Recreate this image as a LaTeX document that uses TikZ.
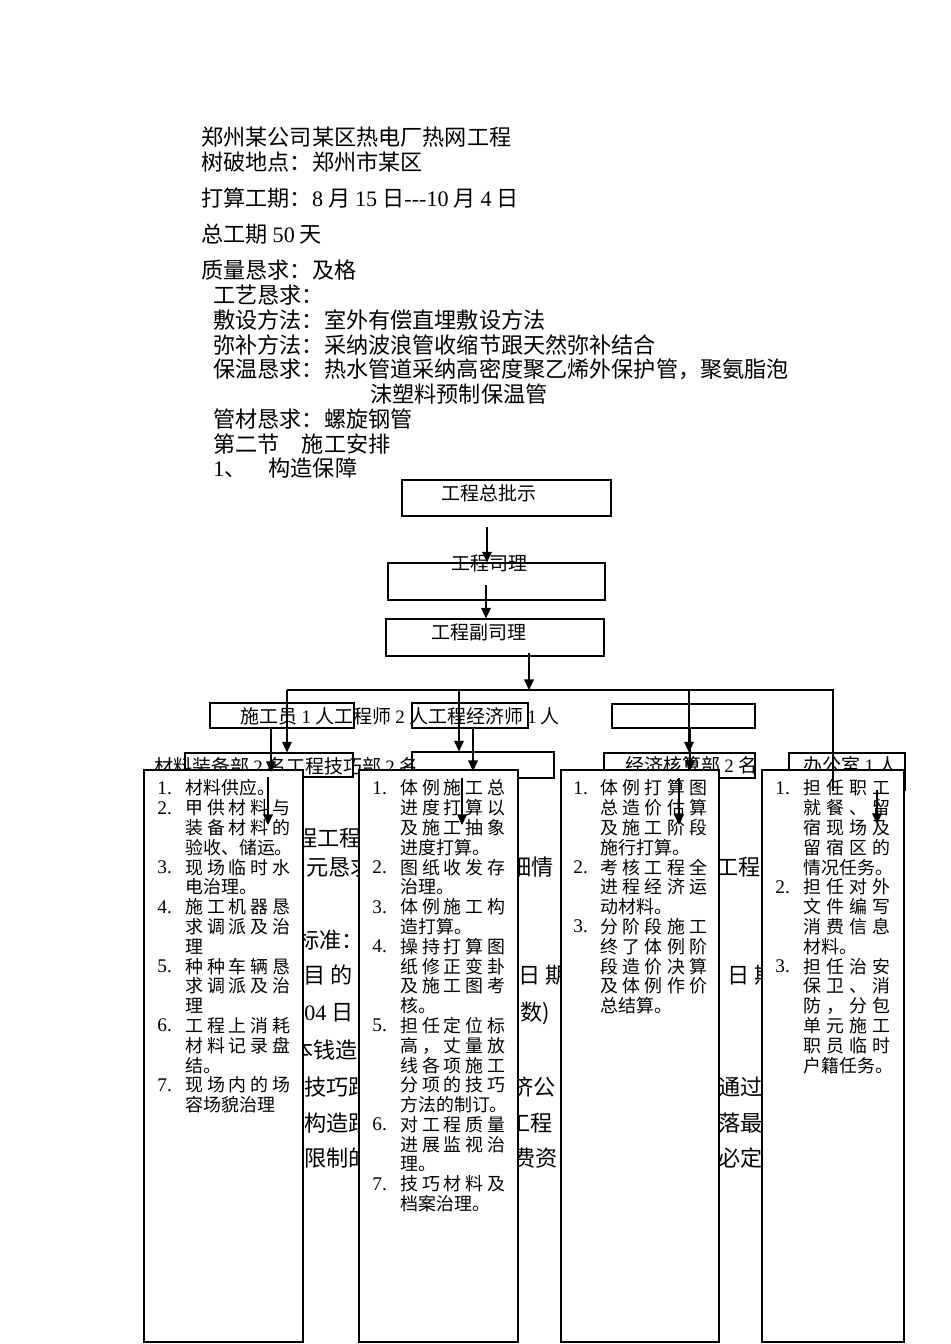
\documentclass[tikz,border=0pt]{standalone}
\usepackage{fontspec}
\setmainfont{Noto Sans CJK SC}
\newfontfamily\lat{Liberation Serif}
\usetikzlibrary{arrows.meta}
\newcommand\px{0.02cm}
% spread the characters of one line over a given width
\def\spreadchars#1#2{#1\ifx\relax#2\else\hfil\expandafter\spreadchars\expandafter#2\fi}
\tikzset{
  box/.style={draw, fill=white, line width=0.7pt, inner sep=0pt},
  hd/.style={anchor=west, inner sep=0pt, font=\fontsize{12.6pt}{15pt}\selectfont},
  lbl/.style={anchor=west, inner sep=0pt, font=\fontsize{10.8pt}{13pt}\selectfont},
  item/.style={anchor=west, inner sep=0pt, font=\fontsize{10.2pt}{12pt}\selectfont},
  num/.style={anchor=west, inner sep=0pt, font=\fontsize{11pt}{13pt}\lat},
  frag/.style={anchor=west, inner sep=0pt, font=\fontsize{12.6pt}{15pt}\selectfont},
  ln/.style={line width=0.7pt},
  arr/.style={line width=0.7pt, -{Triangle[length=6pt, width=5.5pt]}},
}
\begin{document}
\begin{tikzpicture}[x=\px, y=-\px]
  \useasboundingbox (0,0) rectangle (950,1344);
  % heading lines
  \node[hd] (t1) at (201,137) {郑州某公司某区热电厂热网工程};
  \node[hd] (t2) at (201,162) {树破地点：郑州市某区};
  \node[hd] (t3) at (201,198) {打算工期：{\lat 8} 月 {\lat 15} 日{\lat -{}-{}-10} 月 {\lat 4} 日};
  \node[hd] (t4) at (201,234) {总工期 {\lat 50} 天};
  \node[hd] (t5) at (201,270) {质量恳求：及格};
  \node[hd] (t6) at (213,295) {工艺恳求：};
  \node[hd] (t7) at (213,320) {敷设方法：室外有偿直埋敷设方法};
  \node[hd] (t8) at (213,345) {弥补方法：采纳波浪管收缩节跟天然弥补结合};
  \node[hd] (t9) at (213,369) {保温恳求：热水管道采纳高密度聚乙烯外保护管，聚氨脂泡};
  \node[hd] (t10) at (370,394) {沫塑料预制保温管};
  \node[hd] (t11) at (213,419) {管材恳求：螺旋钢管};
  \node[hd] (t12) at (213,444) {第二节\quad 施工安排};
  \node[hd] (t13) at (213,468) {{\lat 1}、\quad 构造保障};

  % text of the page behind the columns
  \foreach \x/\y/\s [count=\i] in {295/838/程工程, 306/867/元恳求, 297/940/标准：,
      303/975/目 的 ，, 304/1013/{\lat 04} 日, 291/1050/本钱造, 304/1087/技巧跟,
      304/1123/构造跟, 304/1158/限制的, 509/867/细情, 518/975/日 期, 520/1013/数),
      511/1087/济公, 508/1123/工程, 513/1158/费资, 716/867/工程, 727/975/日 期,
      718/1087/通过, 718/1123/落最, 718/1158/必定}
    \node[frag] (frag\i) at (\x,\y) {\s};

  % chart boxes
  \node[box, minimum width=209*\px, minimum height=36*\px] (pishi) at (506.5,498) {};
  \node[box, minimum width=217*\px, minimum height=37*\px] (sili) at (496.5,581.5) {};
  \node[box, minimum width=218*\px, minimum height=37*\px] (fusili) at (495,637.5) {};
  \node[box, minimum width=144*\px, minimum height=25*\px] (shigong) at (282,715.5) {};
  \node[box, minimum width=116*\px, minimum height=25*\px] (jingji) at (470,715.5) {};
  \node[box, minimum width=143*\px, minimum height=24*\px] (kong) at (683.5,716) {};
  \node[box, minimum width=168*\px, minimum height=24*\px] (cailiao) at (269,765) {};
  \node[box, minimum width=142*\px, minimum height=26*\px] (jishu) at (483,765) {};
  \node[box, minimum width=151*\px, minimum height=25*\px] (hesuan) at (679.5,765.5) {};
  \node[box, minimum width=116*\px, minimum height=37*\px] (bangong) at (847,771.5) {};

  \node[lbl] (l1) at (441,493) {工程总批示};
  \node[lbl] (l2) at (451,563) {工程司理};
  \node[lbl] (l3) at (431,632) {工程副司理};
  \node[lbl] (l4) at (240,716) {施工员 {\lat 1} 人工程师 {\lat 2} 人工程经济师 {\lat 1} 人};
  \node[lbl] (l5) at (154,766) {材料装备部 {\lat 2} 名工程技巧部 {\lat 2} 名};
  \node[lbl] (l6) at (625,765) {经济核算部 {\lat 2} 名};
  \node[lbl] (l7) at (803,765) {办公室 {\lat 1} 人};

  % duty columns
  \node[box, minimum width=159*\px, minimum height=572*\px] (dept1) at (223.5,1056) {};
  \node[box, minimum width=159*\px, minimum height=572*\px] (dept2) at (438.5,1056) {};
  \node[box, minimum width=158*\px, minimum height=572*\px] (dept3) at (640,1056) {};
  \node[box, minimum width=142*\px, minimum height=572*\px] (dept4) at (833,1056) {};

  \foreach \n/\k in {1/0, 2/1, 3/4, 4/6, 5/9, 6/12, 7/15}
    \node[num] (onen\n) at (157,788+19.8*\k) {\n.};
  \foreach \txt/\jst [count=\i from 0] in {材料供应。/0, 甲供材料与/1, 装备材料的/1,
      验收、储运。/0, 现场临时水/1, 电治理。/0, 施工机器恳/1, 求调派及治/1, 理/0,
      种种车辆恳/1, 求调派及治/1, 理/0, 工程上消耗/1, 材料记录盘/1, 结。/0,
      现场内的场/1, 容场貌治理/0}
    \node[item] (one\i) at (185,788+19.8*\i)
      {\ifnum\jst=1 \makebox[2.1cm][s]{\expandafter\spreadchars\txt\relax}\else\txt\fi};

  \foreach \n/\k in {1/0, 2/4, 3/6, 4/8, 5/12, 6/17, 7/20}
    \node[num] (twon\n) at (372,788+19.8*\k) {\n.};
  \foreach \txt/\jst [count=\i from 0] in {体例施工总/1, 进度打算以/1, 及施工抽象/1,
      进度打算。/0, 图纸收发存/1, 治理。/0, 体例施工构/1, 造打算。/0, 操持打算图/1,
      纸修正变卦/1, 及施工图考/1, 核。/0, 担任定位标/1, 高，丈量放/1, 线各项施工/1,
      分项的技巧/1, 方法的制订。/0, 对工程质量/1, 进展监视治/1, 理。/0,
      技巧材料及/1, 档案治理。/0}
    \node[item] (two\i) at (400,788+19.8*\i)
      {\ifnum\jst=1 \makebox[2.1cm][s]{\expandafter\spreadchars\txt\relax}\else\txt\fi};

  \foreach \n/\k in {1/0, 2/4, 3/7}
    \node[num] (threen\n) at (573,788+19.8*\k) {\n.};
  \foreach \txt/\jst [count=\i from 0] in {体例打算图/1, 总造价估算/1, 及施工阶段/1,
      施行打算。/0, 考核工程全/1, 进程经济运/1, 动材料。/0, 分阶段施工/1,
      终了体例阶/1, 段造价决算/1, 及体例作价/1, 总结算。/0}
    \node[item] (three\i) at (600,788+19.8*\i)
      {\ifnum\jst=1 \makebox[2.14cm][s]{\expandafter\spreadchars\txt\relax}\else\txt\fi};

  \foreach \n/\k in {1/0, 2/5, 3/9}
    \node[num] (fourn\n) at (775,788+19.8*\k) {\n.};
  \foreach \txt/\jst [count=\i from 0] in {担任职工/1, 就餐、留/1, 宿现场及/1,
      留宿区的/1, 情况任务。/0, 担任对外/1, 文件编写/1, 消费信息/1, 材料。/0,
      担任治安/1, 保卫、消/1, 防，分包/1, 单元施工/1, 职员临时/1, 户籍任务。/0}
    \node[item] (four\i) at (803,788+19.8*\i)
      {\ifnum\jst=1 \makebox[1.74cm][s]{\expandafter\spreadchars\txt\relax}\else\txt\fi};

  % connectors
  \coordinate (a1) at (487,527);
  \coordinate (a2) at (486,585);
  \coordinate (a3) at (529,653);
  \coordinate (hl) at (287,690);
  \coordinate (hm) at (459,690);
  \coordinate (hn) at (689,690);
  \coordinate (hr) at (833,690);
  \draw[arr] (a1) -- (a1 |- sili.north);
  \draw[arr] (a2) -- (a2 |- fusili.north);
  \draw[arr] (a3) -- (a3 |- hl);
  \draw[ln] (hl) -- (hr) -- (hr |- bangong.south);
  \draw[arr] (hl) -- (hl |- cailiao.north);
  \draw[arr] (hm) -- (hm |- jishu.north);
  \draw[arr] (hn) -- (hn |- hesuan.north);
  \foreach \x/\ya/\yb [count=\i] in {271/728/772, 473/728/771, 690/728/771,
      268/777/825, 462/778/825, 679/778/825, 877/790/824} {
    \coordinate (s\i) at (\x,\ya);
    \coordinate (e\i) at (\x,\yb);
    \draw[arr] (s\i) -- (e\i);
  }
\end{tikzpicture}
\end{document}
